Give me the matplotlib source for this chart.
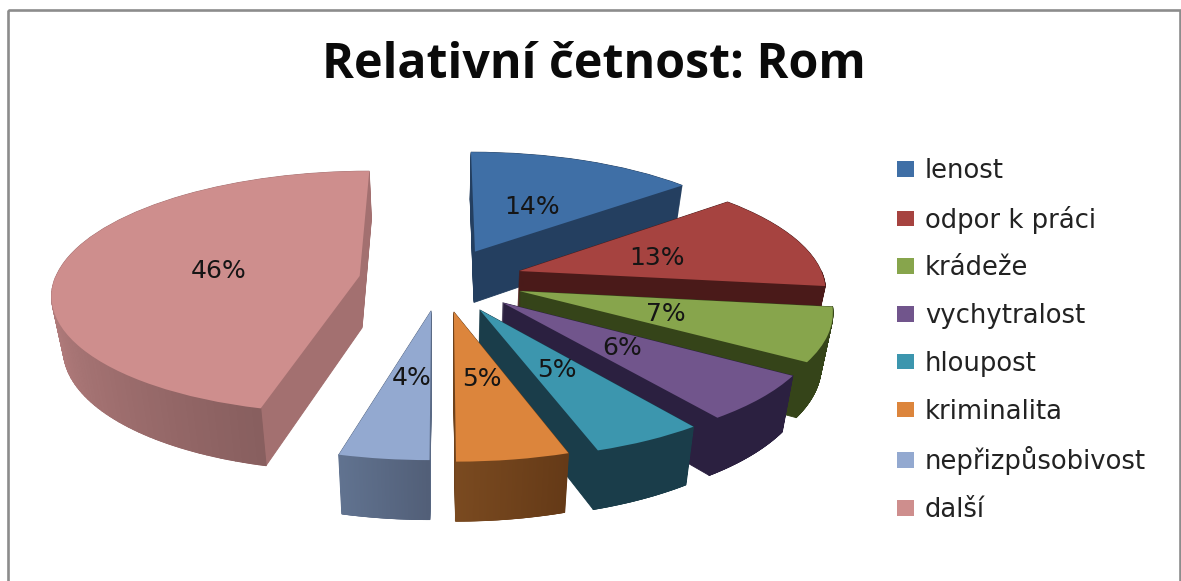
import numpy as np
import matplotlib
matplotlib.use("Agg")
import matplotlib.pyplot as plt
from matplotlib.collections import PolyCollection
from matplotlib.colors import to_rgb
from matplotlib.patches import Rectangle
from matplotlib.transforms import Affine2D, Transform

categories = ["lenost", "odpor k práci", "krádeže", "vychytralost", "hloupost",
              "kriminalita", "nepřizpůsobivost", "další"]
values = [14, 13, 7, 6, 5, 5, 4, 46]
title = "Relativní četnost: Rom"

top_colors = ["#3F6FA6", "#A64340", "#87A54C", "#71558C", "#3C96AE", "#DC853C", "#93A9D0", "#CE8E8D"]
cut_colors = ["#243F60", "#4A1A19", "#354419", "#2B2040", "#1A3D4A", "#6E421C", "#5A6A85", "#A37070"]
wall_start = ["#243F60", "#4A1A19", "#354419", "#2B2040", "#1A3D4A", "#7A4A20", "#617390", "#BC8383"]
wall_end = ["#243F60", "#4A1A19", "#354419", "#2B2040", "#1A3D4A", "#653A17", "#525F78", "#885F5F"]
explode = [0.27, 0.27, 0.27, 0.27, 0.27, 0.26, 0.25, 0.27]

CX, CY, RX, RY, K, DEPTH, TAPER = 441.0, 280.0, 305.0, 120.0, 0.135, 52.0, 0.03


class Persp(Transform):
    input_dims = output_dims = 2

    def __init__(self, drop=0.0):
        super().__init__()
        self.drop = drop

    def transform_non_affine(self, xy):
        xy = np.asarray(xy, float)
        s = 1.0 / (1.0 + K * xy[:, 1])
        taper = 1 - TAPER * self.drop / DEPTH
        return np.column_stack([CX + RX * xy[:, 0] * s * taper,
                                CY - RY * xy[:, 1] * s + self.drop * (0.3 + 0.7 * s)])


fig = plt.figure(figsize=(11.81, 5.81), dpi=100, facecolor="white")
ax = fig.add_axes([0, 0, 1, 1])

n_layers = 54
for layer in range(n_layers):
    drop = DEPTH * (1 - layer / (n_layers - 1))
    wedges, _ = ax.pie(values, explode=explode, startangle=90, counterclock=False,
                       colors=cut_colors, radius=1.0, center=(0, 0),
                       wedgeprops={"linewidth": 0.6})
    T = Persp(drop) + ax.transData
    for i, w in enumerate(wedges):
        w.set_transform(T)
        w.set_edgecolor(cut_colors[i])
        w.set_zorder(i * 100 + 1 + layer * 0.5)

top, _, pct = ax.pie(values, explode=explode, startangle=90, counterclock=False,
                     colors=top_colors, radius=1.0, center=(0, 0),
                     autopct=lambda p: f"{p:.0f}%", pctdistance=0.48,
                     textprops={"fontsize": 18, "color": "#151515", "family": "DejaVu Sans"})
T = Persp(0.0) + ax.transData
for i, w in enumerate(top):
    w.set_transform(T)
    w.set_zorder(i * 100 + 60)
T_text = Persp(0.0) + Affine2D().translate(2, 2) + ax.transData
for t in pct:
    t.set_transform(T_text)
    t.set_zorder(2000)

# rounded outer wall, shaded along the front-facing part of each arc
for i, w in enumerate(top):
    t1, t2 = w.theta1 % 360, w.theta2 % 360
    if t2 <= t1:
        t2 += 360
    angles = np.linspace(t1, t2, 120)
    front = np.sin(np.radians(angles)) < 0
    angles = angles[front]
    if len(angles) < 2:
        continue
    cx, cy = w.center
    pts = np.column_stack([cx + w.r * np.cos(np.radians(angles)),
                           cy + w.r * np.sin(np.radians(angles))])
    upper, lower = Persp(0.0).transform(pts), Persp(DEPTH).transform(pts)
    quads = [[upper[j], upper[j + 1], lower[j + 1], lower[j]] for j in range(len(pts) - 1)]
    c0, c1 = np.array(to_rgb(wall_start[i])), np.array(to_rgb(wall_end[i]))
    cols = [c0 + (c1 - c0) * j / max(len(quads) - 1, 1) for j in range(len(quads))]
    ax.add_collection(PolyCollection(quads, facecolors=cols, edgecolors=cols, linewidths=0.8,
                                     zorder=i * 100 + 50))

ax.set_aspect("auto")
ax.set_xlim(0, 1181)
ax.set_ylim(581, 0)
ax.axis("off")

ax.add_patch(Rectangle((7.5, 9.5), 1172, 600, fill=False, edgecolor="#8C8C8C",
                       linewidth=1.9, zorder=1))

ax.text(594, 65, title, ha="center", va="center", fontsize=34.8, fontweight="bold",
        family="Open Sans", color="#0A0A0A")

leg = ax.legend(top, categories, loc="upper left", bbox_to_anchor=(897 / 1181, 1 - 158 / 581),
                frameon=False, fontsize=18.6, labelspacing=0.84, handlelength=0.66,
                handleheight=0.55, handletextpad=0.42, borderpad=0, borderaxespad=0,
                labelcolor="#222222")
fig.savefig("out.png", dpi=100)
